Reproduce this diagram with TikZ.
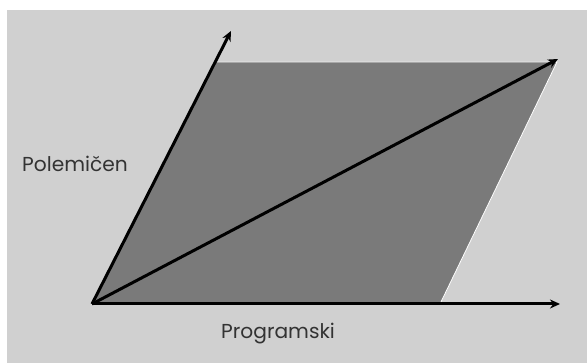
\documentclass[tikz,border=0pt]{standalone}
\usepackage{fontspec}
\setmainfont{Poppins}
\usetikzlibrary{arrows.meta}
\definecolor{bggray}{HTML}{D0D0D0}
\definecolor{parfill}{HTML}{7A7A7A}
\definecolor{labelgray}{HTML}{333333}
\tikzset{
  axis/.style={line width=3pt, -{Stealth[length=10pt,width=9pt]}},
  lbl/.style={text=labelgray, font=\fontsize{20.2}{23}\selectfont, inner sep=0pt, anchor=base west}
}
\begin{document}
\begin{tikzpicture}[x=1pt,y=1pt]
  \useasboundingbox (0,0) rectangle (587,363);
  \fill[white] (0,0) rectangle (587,363);
  \fill[bggray] (7,0) rectangle (587,353);
  \coordinate (O) at (92,59);
  \coordinate (TL) at (216,301);
  \coordinate (TR) at (557,301);
  \coordinate (BR) at (440,59);
  \coordinate (U) at (231,332);
  \coordinate (D) at (558,304);
  \coordinate (H) at (560,59);
  \fill[parfill] (O) -- (TL) -- (TR) -- (BR) -- cycle;
  \draw[white, line width=0.8pt] (TL) -- (TR) -- (BR);
  \draw[axis] (O) -- (U);
  \draw[axis] (O) -- (D);
  \draw[axis] (O) -- (H);
  \node[lbl] (pol) at (22,191) {Polemičen};
  \node[lbl] (prog) at (221,24) {Programski};
\end{tikzpicture}
\end{document}
